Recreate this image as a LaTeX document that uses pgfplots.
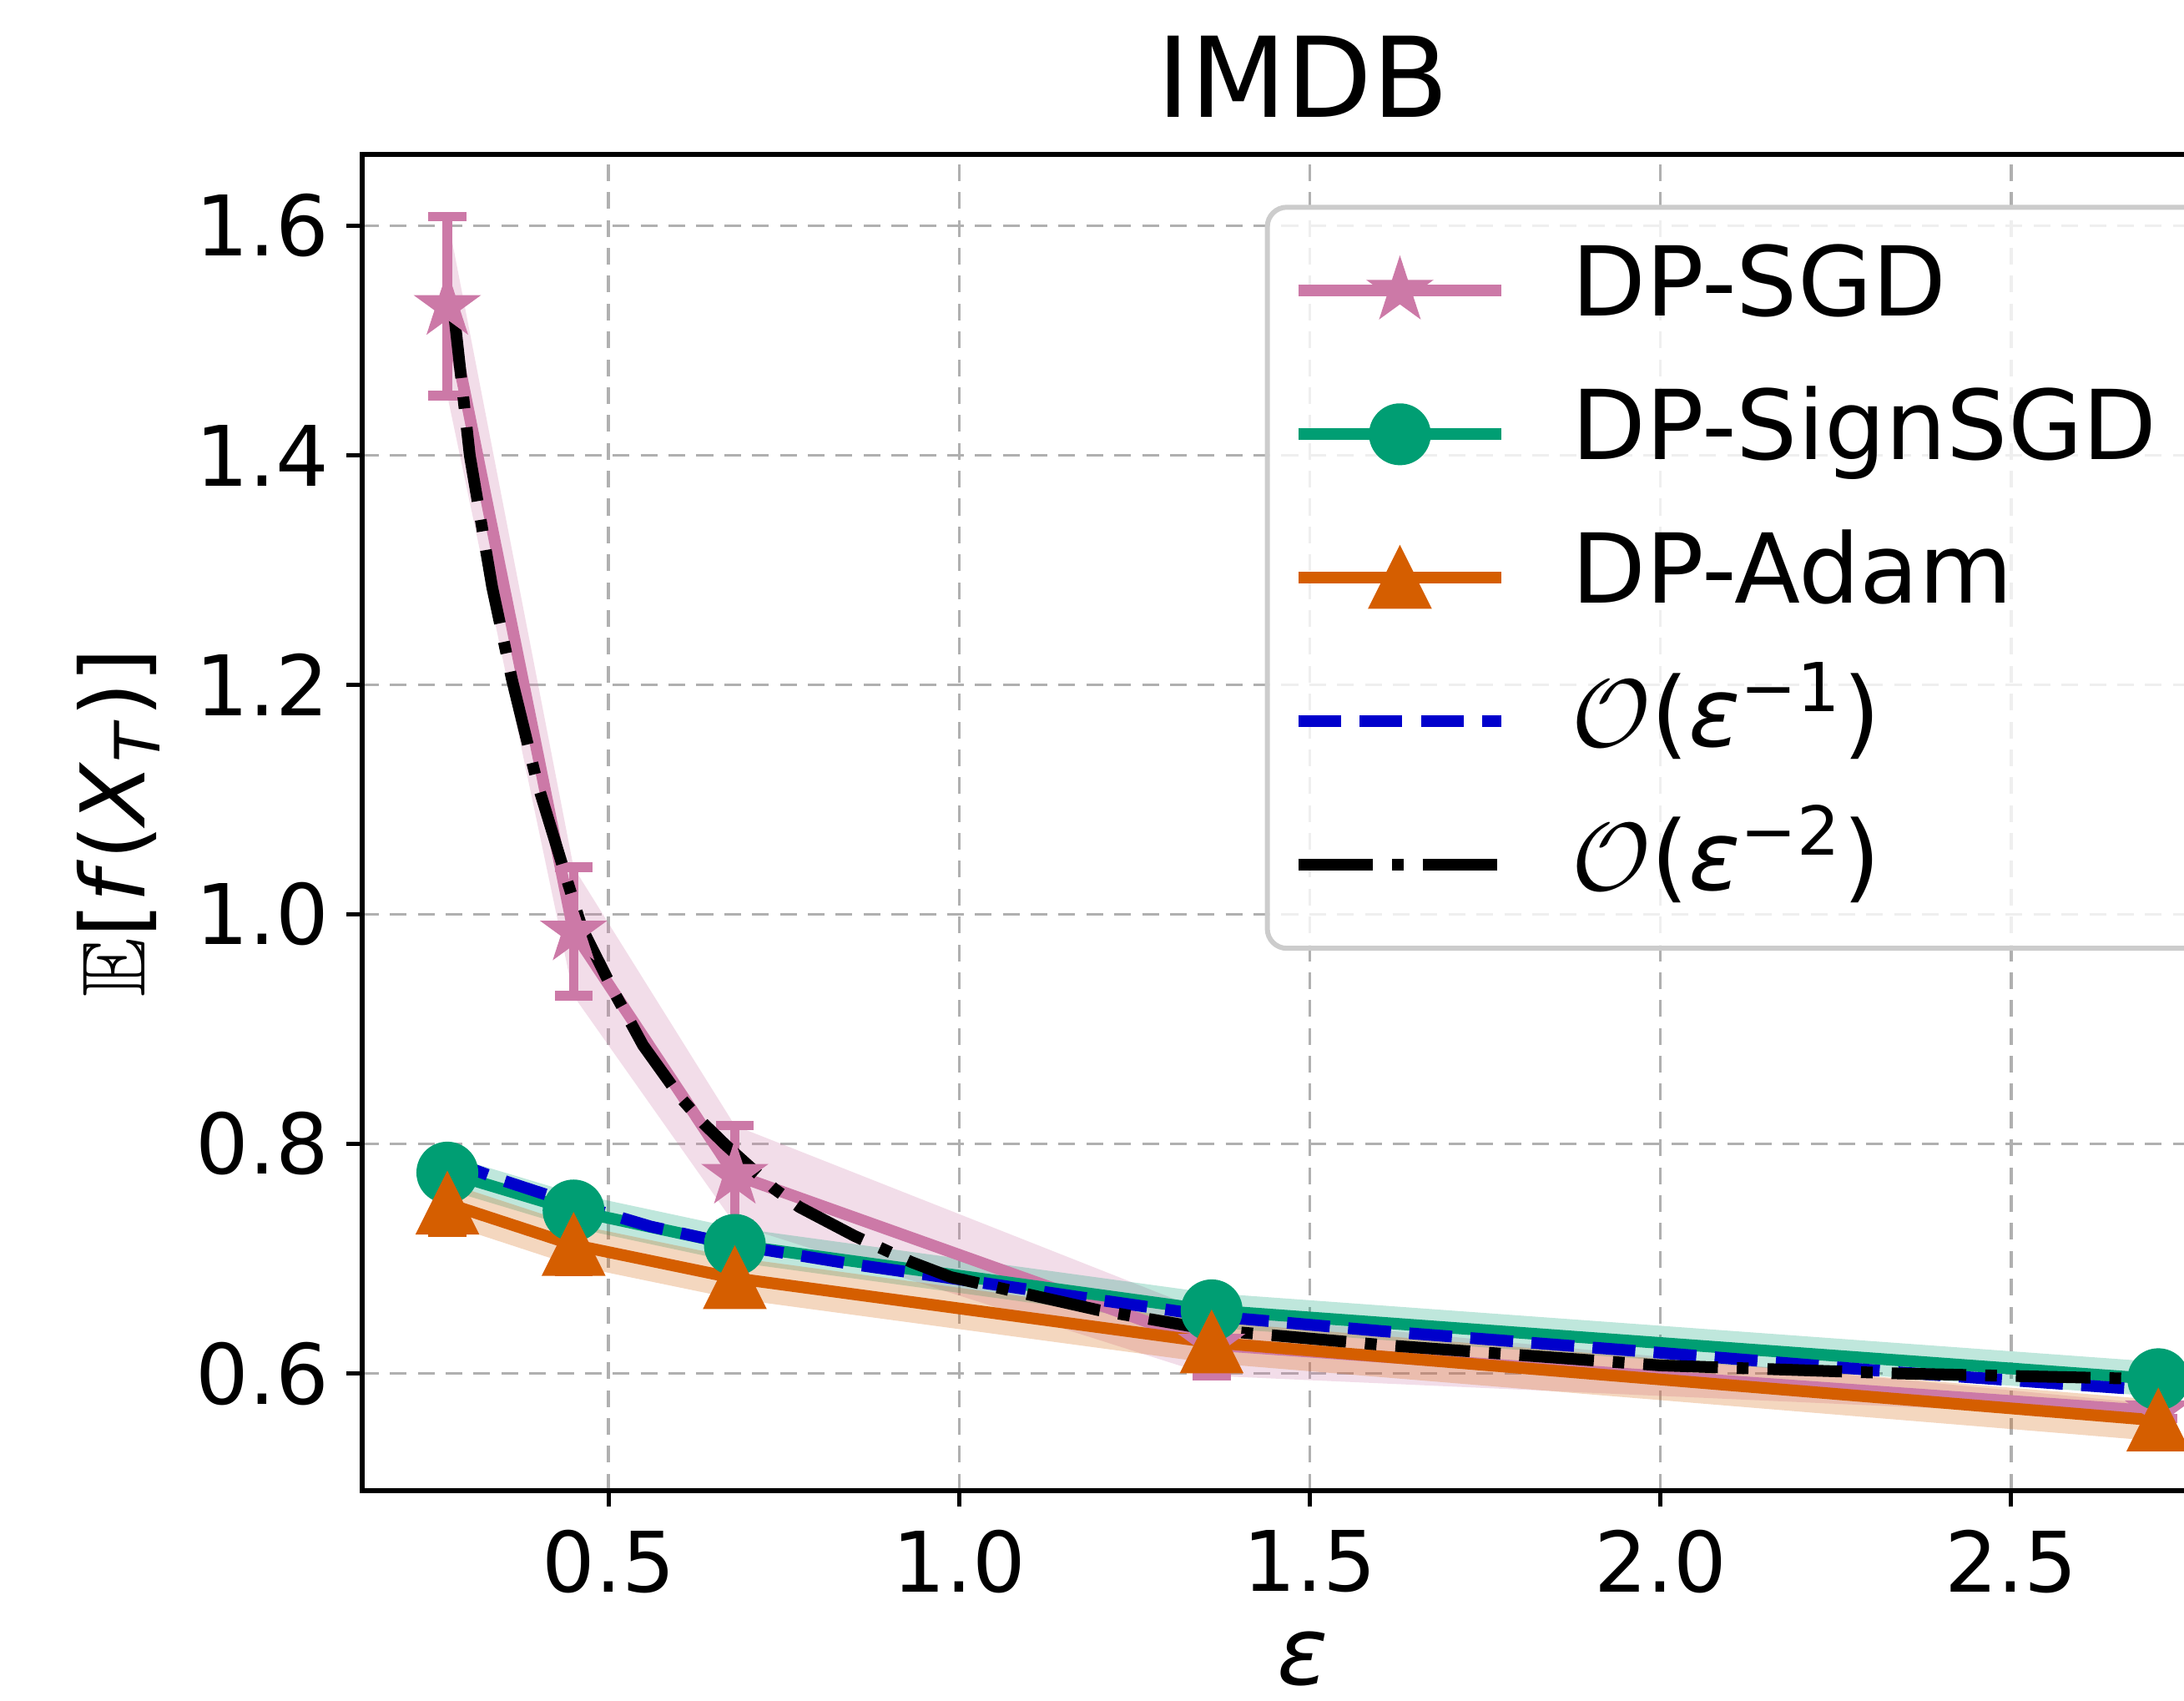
\documentclass[border=0pt]{standalone}
\usepackage{fontspec}
\setmainfont{DejaVu Sans}
\usepackage{amssymb}
\usepackage{pgfplots}
\pgfplotsset{compat=1.18}
\usepgfplotslibrary{fillbetween}

\definecolor{sgd}{HTML}{CC79A7}
\definecolor{sign}{HTML}{009E73}
\definecolor{adam}{HTML}{D55E00}
\definecolor{fitblue}{HTML}{0000CC}
\definecolor{gridgray}{HTML}{B0B0B0}

% filled 5-point star, like matplotlib '*'
\pgfdeclareplotmark{mstar}{%
  \pgfpathmoveto{\pgfpointpolar{90}{\pgfplotmarksize}}%
  \pgfpathlineto{\pgfpointpolar{126}{0.382\pgfplotmarksize}}%
  \pgfpathlineto{\pgfpointpolar{162}{\pgfplotmarksize}}%
  \pgfpathlineto{\pgfpointpolar{198}{0.382\pgfplotmarksize}}%
  \pgfpathlineto{\pgfpointpolar{234}{\pgfplotmarksize}}%
  \pgfpathlineto{\pgfpointpolar{270}{0.382\pgfplotmarksize}}%
  \pgfpathlineto{\pgfpointpolar{306}{\pgfplotmarksize}}%
  \pgfpathlineto{\pgfpointpolar{342}{0.382\pgfplotmarksize}}%
  \pgfpathlineto{\pgfpointpolar{18}{\pgfplotmarksize}}%
  \pgfpathlineto{\pgfpointpolar{54}{0.382\pgfplotmarksize}}%
  \pgfpathclose
  \pgfusepathqfillstroke
}
% matplotlib '^' triangle (as wide as tall)
\pgfdeclareplotmark{mtri}{%
  \pgfpathmoveto{\pgfpoint{0pt}{\pgfplotmarksize}}%
  \pgfpathlineto{\pgfpoint{-\pgfplotmarksize}{-\pgfplotmarksize}}%
  \pgfpathlineto{\pgfpoint{\pgfplotmarksize}{-\pgfplotmarksize}}%
  \pgfpathclose
  \pgfusepathqfillstroke
}

\begin{document}
\begin{tikzpicture}
\begin{axis}[
    name=ax,
    scale only axis,
    width=337.75pt, height=239.75pt,
    xmin=0.1485, xmax=2.832,
    ymin=0.498, ymax=1.662,
    xtick={0.5,1.0,1.5,2.0,2.5},
    ytick={0.6,0.8,1.0,1.2,1.4,1.6},
    xticklabels={0.5,1.0,1.5,2.0,2.5},
    /pgf/number format/assume math mode=true,
    ticklabel style={font=\fontsize{15}{18}\selectfont},
    xticklabel style={inner sep=0pt, anchor=north, yshift=-4.1pt},
    yticklabel style={inner sep=0pt, anchor=east, xshift=-3pt,
        /pgf/number format/fixed, /pgf/number format/fixed zerofill,
        /pgf/number format/precision=1},
    tick pos=left, tick align=outside,
    major tick length=2.8pt,
    tick style={black, line width=0.8pt},
    axis line style={black, line width=0.9pt},
    grid=major,
    grid style={gridgray, line width=0.55pt, dash pattern=on 3pt off 2pt},
    title={IMDB},
    title style={font=\fontsize{20}{24}\selectfont, at={(axis description cs:0.5,1)}, anchor=center, yshift=8pt, inner sep=0pt},
    xlabel={\textit{ε}},
    xlabel style={font=\fontsize{17}{20}\selectfont, at={(axis description cs:0.5,-0.126)}, anchor=center, inner sep=0pt},
    ylabel={$\mathbb{E}$[\textit{f}(\textit{X}\textsubscript{\textit{T}})]},
    ylabel style={font=\fontsize{16}{19}\selectfont, at={(axis description cs:-0.1295,0.5)}, anchor=center, inner sep=0pt},
    legend cell align=left,
    legend image code/.code={\draw[mark repeat=2, mark phase=2, fill opacity=1, draw opacity=1] plot coordinates {(0pt,0pt) (18.25pt,0pt) (36.5pt,0pt)};},
    legend style={at={(rel axis cs:0.4797,0.9625)}, anchor=north west,
        draw=black!20, line width=0.9pt, rounded corners=3.5pt,
        fill=white, fill opacity=0.8, text opacity=1,
        font=\fontsize{17.3}{20}\selectfont,
        inner xsep=4.5pt, inner ysep=6.5pt,
        row sep=8.75pt, column sep=11.5pt,
        nodes={inner sep=0pt, text height=13pt, text depth=4pt}},
]

% ---- shaded bands ----
\addplot[name path=sgdU, draw=none, forget plot] coordinates {(0.27,1.608) (0.45,1.041) (0.68,0.816) (1.36,0.652) (2.71,0.573)};
\addplot[name path=sgdL, draw=none, forget plot] coordinates {(0.27,1.452) (0.45,0.929) (0.68,0.730) (1.36,0.598) (2.71,0.561)};
\addplot[sgd, fill opacity=0.25, draw=none, forget plot] fill between[of=sgdU and sgdL];

\addplot[name path=signU, draw=none, forget plot] coordinates {(0.27,0.790) (0.45,0.757) (0.68,0.727) (1.36,0.670) (2.71,0.610)};
\addplot[name path=signL, draw=none, forget plot] coordinates {(0.27,0.760) (0.45,0.727) (0.68,0.697) (1.36,0.640) (2.71,0.580)};
\addplot[sign, fill opacity=0.25, draw=none, forget plot] fill between[of=signU and signL];

\addplot[name path=adamU, draw=none, forget plot] coordinates {(0.27,0.766) (0.45,0.730) (0.68,0.701) (1.36,0.645) (2.71,0.577)};
\addplot[name path=adamL, draw=none, forget plot] coordinates {(0.27,0.730) (0.45,0.694) (0.68,0.665) (1.36,0.609) (2.71,0.541)};
\addplot[adam, fill opacity=0.25, draw=none, forget plot] fill between[of=adamU and adamL];

% ---- measured series ----
\addplot[sgd, line width=2.1pt, mark=mstar, mark size=5.4pt, mark options={solid, fill=sgd, line width=0.6pt},
    error bars/.cd, y dir=both, y explicit,
    error bar style={line width=1.7pt},
    error mark options={rotate=90, mark size=3.4pt, line width=1.7pt}]
coordinates {
    (0.27,1.530) +- (0,0.078)
    (0.45,0.985) +- (0,0.056)
    (0.68,0.773) +- (0,0.043)
    (1.36,0.625) +- (0,0.027)
    (2.71,0.567) +- (0,0.006)
};
\addlegendentry{DP-SGD}

\addplot[sign, line width=2.1pt, mark=*, mark size=5.25pt, mark options={solid, fill=sign, line width=0.6pt},
    error bars/.cd, y dir=both, y explicit,
    error bar style={line width=1.7pt},
    error mark options={rotate=90, mark size=3.4pt, line width=1.7pt}]
coordinates {
    (0.27,0.775) +- (0,0.012)
    (0.45,0.742) +- (0,0.012)
    (0.68,0.712) +- (0,0.012)
    (1.36,0.655) +- (0,0.012)
    (2.71,0.595) +- (0,0.012)
};
\addlegendentry{DP-SignSGD\hspace*{14pt}}

\addplot[adam, line width=2.1pt, mark=mtri, mark size=5.25pt, mark options={solid, fill=adam, line width=0.6pt},
    error bars/.cd, y dir=both, y explicit,
    error bar style={line width=1.7pt},
    error mark options={rotate=90, mark size=3.4pt, line width=1.7pt}]
coordinates {
    (0.27,0.748) +- (0,0.025)
    (0.45,0.712) +- (0,0.023)
    (0.68,0.683) +- (0,0.020)
    (1.36,0.627) +- (0,0.020)
    (2.71,0.559) +- (0,0.015)
};
\addlegendentry{DP-Adam}

% ---- fitted rates ----
\addplot[fitblue, line width=2.1pt, dash pattern=on 7.7pt off 3.3pt, no marks]
coordinates {
    (0.27,0.786) (0.35,0.768) (0.45,0.748) (0.56,0.728) (0.68,0.712)
    (0.85,0.695) (1.00,0.682) (1.20,0.664) (1.36,0.650) (1.60,0.637)
    (2.00,0.618) (2.34,0.601) (2.71,0.585)
};
\addlegendentry{$\mathcal{O}$(\textit{ε}\textsuperscript{−1})}

\addplot[black, line width=2.1pt, dash pattern=on 13.4pt off 3.4pt on 2.1pt off 3.4pt, no marks]
coordinates {
    (0.278,1.532) (0.302,1.400) (0.334,1.285) (0.362,1.205) (0.398,1.115)
    (0.437,1.037) (0.462,0.988) (0.508,0.932) (0.549,0.886) (0.603,0.840)
    (0.635,0.818) (0.667,0.799) (0.736,0.761) (0.772,0.745) (0.850,0.720)
    (0.932,0.697) (0.988,0.684) (1.20,0.655) (1.36,0.638) (1.60,0.625)
    (2.00,0.607) (2.34,0.600) (2.71,0.595)
};
\addlegendentry{$\mathcal{O}$(\textit{ε}\textsuperscript{−2})}

\end{axis}
\pgfresetboundingbox
\path[use as bounding box] ([shift={(-65pt,-37.75pt)}]ax.south west) rectangle ([shift={(327pt,27.75pt)}]ax.north west);
\end{tikzpicture}
\end{document}
